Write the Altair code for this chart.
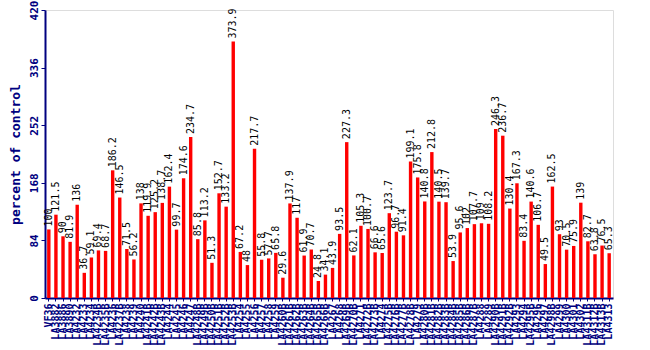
import altair as alt
import pandas as pd

labels = ["VF36", "LA3882", "LA3886", "LA3890", "LA4232", "LA4233", "LA4234",
          "LA4234B", "LA4235B", "LA4236", "LA4237B", "LA4238", "LA4239", "LA4240",
          "LA4241B", "LA4242B", "LA4243B", "LA4244", "LA4245", "LA4246", "LA4247",
          "LA4248B", "LA4249B", "LA4250B", "LA4251B", "LA4252B", "LA4253B", "LA4254",
          "LA4255", "LA4256", "LA4257", "LA4258", "LA4259", "LA4260B", "LA4261B",
          "LA4262B", "LA4263B", "LA4264B", "LA4265B", "LA4266B", "LA4267", "LA4268",
          "LA4269B", "LA4270B", "LA4271", "LA4272B", "LA4273B", "LA4274", "LA4275B",
          "LA4276B", "LA4277B", "LA4278B", "LA4279", "LA4280B", "LA4281B", "LA4282B",
          "LA4283B", "LA4284B", "LA4285B", "LA4286B", "LA4287B", "LA4288", "LA4289",
          "LA4290B", "LA4291B", "LA4292B", "LA4293", "LA4294", "LA4295B", "LA4296",
          "LA4297", "LA4298B", "LA4299", "LA4300", "LA4301", "LA4302", "LA4311B",
          "LA4312B", "LA4313B", "LA4313"]
values = [100, 121.5, 90, 81.9, 136, 36.7, 59.1, 69.4, 68.7, 186.2,
          146.5, 71.5, 56.2, 138, 119.9, 125.2, 138.7, 162.4, 99.7, 174.6,
          234.7, 85.8, 113.2, 51.3, 152.7, 133.2, 373.9, 67.2, 48, 217.7,
          55.8, 57.7, 65.8, 29.6, 137.9, 117, 61.9, 70.7, 24.8, 34.1,
          43.9, 93.5, 227.3, 62.1, 105.3, 100.7, 66.6, 65.6, 123.7, 96.7,
          91.4, 199.1, 175.8, 140.8, 212.8, 140.5, 139.7, 53.9, 95.6, 102,
          107.7, 109, 108.2, 246.3, 236.7, 130.4, 167.3, 83.4, 140.6, 106.7,
          49.5, 162.5, 93, 70.5, 75.9, 139, 82.7, 63.8, 76.5, 65.3]
y_ticks = [0, 84, 168, 252, 336, 420]

df = pd.DataFrame({"label": labels, "value": values})
df["txt"] = df["value"].map(lambda v: f"{v:g}")

navy = "#000080"
font = "DejaVu Sans Mono"

x = alt.X("label:N", sort=None,
          scale=alt.Scale(paddingInner=0.52, paddingOuter=0.3),
          axis=alt.Axis(title=None, labelAngle=-90, labelAlign="right",
                        labelBaseline="middle", labelFont=font, labelFontSize=10,
                        labelFontWeight="bold",
                        labelColor=navy, domainColor=navy, tickColor=navy,
                        tickSize=3, labelPadding=2, labelOverlap=False,
                        domainWidth=2))
y = alt.Y("value:Q", scale=alt.Scale(domain=[0, 420], nice=False),
          axis=alt.Axis(title="percent of control", values=y_ticks,
                        titleFont=font, titleFontSize=13, titleColor=navy,
                        titleFontWeight="bold", titlePadding=6,
                        labelAngle=-90, labelAlign="center", labelBaseline="bottom",
                        labelFont=font, labelFontSize=11, labelColor=navy,
                        labelFontWeight="bold",
                        domainColor=navy, tickColor=navy, tickSize=4,
                        labelPadding=2, grid=False, domainWidth=2))

bars = alt.Chart(df).mark_bar(color="#ff0000").encode(x=x, y=y)
text = alt.Chart(df).mark_text(angle=270, align="left", baseline="middle",
                               dx=3, font=font, fontSize=10, color="black").encode(
    x=alt.X("label:N", sort=None), y="value:Q", text="txt:N")

chart = (bars + text).properties(
    width=568, height=288,
    autosize=alt.AutoSizeParams(type="none"),
    padding={"left": 45, "top": 10, "right": 37, "bottom": 52},
).configure_view(stroke=navy, strokeWidth=2).configure(background="white")

chart.save("out.html", embed_options={"renderer": "svg", "actions": False})
